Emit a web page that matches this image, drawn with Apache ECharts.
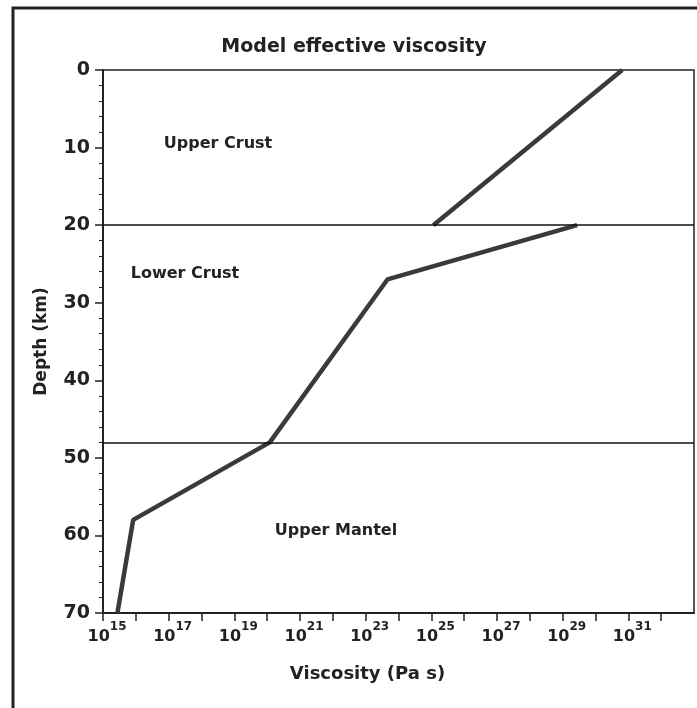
<!DOCTYPE html>
<html>
<head>
<meta charset="utf-8">
<script src="https://cdn.jsdelivr.net/npm/echarts@6/dist/echarts.min.js"></script>
<style>
  html, body { margin: 0; padding: 0; background: #fff; }
  #chart { width: 697px; height: 708px; }
</style>
</head>
<body>
<div id="chart"></div>
<script>
// Depth profile of effective viscosity (Pa s) through crust and upper mantle
const upperCrustDepth = [0, 20];
const upperCrustVisc = [6.5e30, 1.15e25];

const lowerDepth = [20, 27, 48, 58, 70];
const lowerVisc = [2.75e29, 4.6e23, 1.2e20, 8.3e15, 2.75e15];

// Layer boundaries (km)
const boundaries = [20, 48];

// Layer names
const layerNames = ['Upper Crust', 'Lower Crust', 'Upper Mantel'];

// Viscosity axis range, in powers of ten
const expMin = 15;
const expMax = 33;

const FONT = '"DejaVu Sans", Verdana, sans-serif';
const INK = '#222';

// The horizontal axis is laid out in log10 units (decades of viscosity)
const pair = (visc, depth) => visc.map((v, i) => [Math.log10(v), depth[i]]);

const chart = echarts.init(document.getElementById('chart'));

chart.setOption({
  backgroundColor: '#fff',
  animation: false,
  grid: {
    left: 103, top: 70, right: 3, bottom: 95,
    show: true, borderColor: INK, borderWidth: 1.5
  },
  xAxis: {
    type: 'value',
    position: 'bottom',
    min: expMin,
    max: expMax,
    interval: 1,
    name: 'Viscosity (Pa s)',
    nameLocation: 'middle',
    nameGap: 52,
    nameTextStyle: {
      fontFamily: FONT, fontWeight: 'bold', fontSize: 18, color: INK,
      padding: [0, 62, 0, 0]
    },
    axisLine: { onZero: false, lineStyle: { color: INK, width: 2 } },
    axisTick: { show: true, inside: false, length: 8, lineStyle: { color: INK, width: 1.5 } },
    splitLine: { show: false },
    axisLabel: {
      margin: 8,
      padding: [0, 0, 0, 8],
      showMaxLabel: false,
      formatter: function (p) {
        if (p % 2 === 0 || p > 31) return '';
        return '{b|10}{s|' + p + '}';
      },
      rich: {
        b: { fontFamily: FONT, fontWeight: 'bold', fontSize: 16, color: INK, lineHeight: 24, verticalAlign: 'bottom' },
        s: { fontFamily: FONT, fontWeight: 'bold', fontSize: 12, color: INK, lineHeight: 14, verticalAlign: 'top' }
      }
    }
  },
  yAxis: {
    type: 'value',
    inverse: true,
    min: 0,
    max: 70,
    interval: 10,
    name: 'Depth (km)',
    nameLocation: 'middle',
    nameGap: 53,
    nameTextStyle: { fontFamily: FONT, fontWeight: 'bold', fontSize: 17, color: INK },
    axisLine: { show: true, onZero: false, lineStyle: { color: INK, width: 2 } },
    axisTick: { show: true, inside: false, length: 8, lineStyle: { color: INK, width: 1.5 } },
    minorTick: { show: true, splitNumber: 5, length: 4, lineStyle: { color: INK, width: 1 } },
    splitLine: { show: false },
    axisLabel: {
      margin: 13,
      fontFamily: FONT, fontWeight: 'bold', fontSize: 19, color: INK
    }
  },
  series: [
    {
      type: 'line',
      data: pair(upperCrustVisc, upperCrustDepth),
      symbol: 'none',
      lineStyle: { color: '#3a3a3a', width: 4.5 },
      markLine: {
        silent: true,
        symbol: 'none',
        label: { show: false },
        lineStyle: { color: '#111', width: 1.5, type: 'solid' },
        data: boundaries.map(d => ({ yAxis: d }))
      }
    },
    {
      type: 'line',
      data: pair(lowerVisc, lowerDepth),
      symbol: 'none',
      lineStyle: { color: '#3a3a3a', width: 4.5 }
    }
  ],
  graphic: [
    {
      type: 'rect',
      shape: { x: 13, y: 8, width: 800, height: 800 },
      style: { fill: 'none', stroke: INK, lineWidth: 3 },
      silent: true
    },
    {
      type: 'text', x: 354, y: 47,
      style: { text: 'Model effective viscosity', textAlign: 'center', textVerticalAlign: 'middle',
               font: 'bold 19px ' + FONT, fill: INK }
    },
    {
      type: 'text', x: 218, y: 144,
      style: { text: layerNames[0], textAlign: 'center', textVerticalAlign: 'middle',
               font: 'bold 16px ' + FONT, fill: INK }
    },
    {
      type: 'text', x: 185, y: 274,
      style: { text: layerNames[1], textAlign: 'center', textVerticalAlign: 'middle',
               font: 'bold 16px ' + FONT, fill: INK }
    },
    {
      type: 'text', x: 336, y: 531,
      style: { text: layerNames[2], textAlign: 'center', textVerticalAlign: 'middle',
               font: 'bold 16px ' + FONT, fill: INK }
    }
  ]
});
</script>
</body>
</html>
